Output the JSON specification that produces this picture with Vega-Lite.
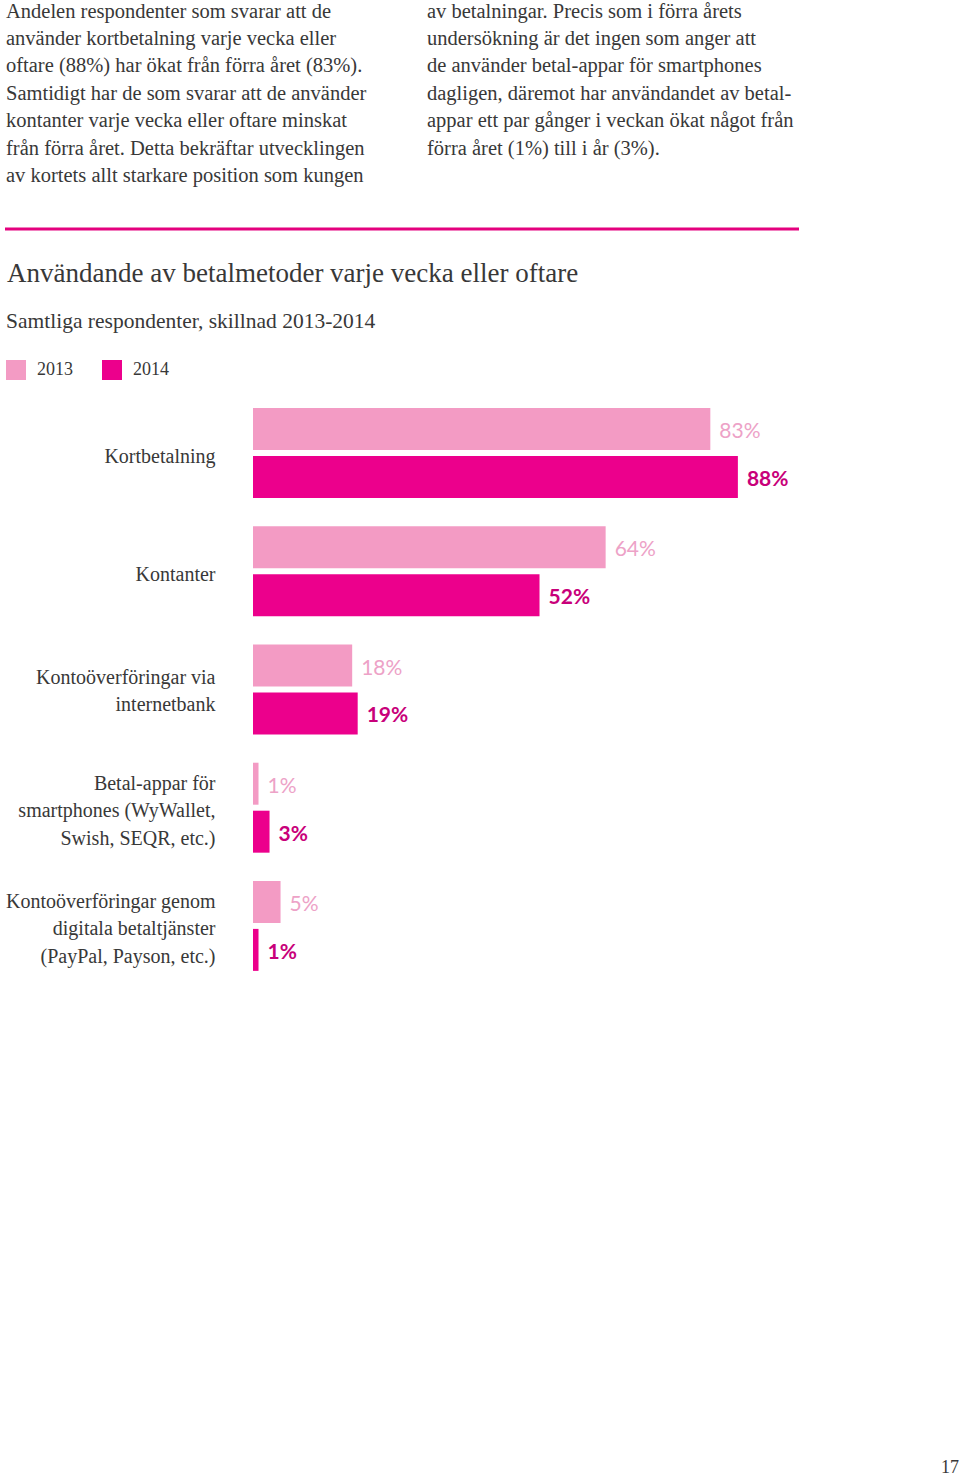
{
  "$schema": "https://vega.github.io/schema/vega-lite/v6.json",
  "width": 551,
  "height": 591,
  "autosize": {"type": "none"},
  "padding": {"left": 253, "top": 394, "right": 156, "bottom": 491},
  "background": "white",
  "config": {"view": {"stroke": null}},
  "datasets": {
    "bars": [
      {"cat": "Kortbetalning", "year": "2013", "value": 83},
      {"cat": "Kortbetalning", "year": "2014", "value": 88},
      {"cat": "Kontanter", "year": "2013", "value": 64},
      {"cat": "Kontanter", "year": "2014", "value": 52},
      {"cat": "Kontoöverföringar via|internetbank", "year": "2013", "value": 18},
      {"cat": "Kontoöverföringar via|internetbank", "year": "2014", "value": 19},
      {"cat": "Betal-appar för|smartphones (WyWallet,|Swish, SEQR, etc.)", "year": "2013", "value": 1},
      {"cat": "Betal-appar för|smartphones (WyWallet,|Swish, SEQR, etc.)", "year": "2014", "value": 3},
      {"cat": "Kontoöverföringar genom|digitala betaltjänster|(PayPal, Payson, etc.)", "year": "2013", "value": 5},
      {"cat": "Kontoöverföringar genom|digitala betaltjänster|(PayPal, Payson, etc.)", "year": "2014", "value": 1}
    ],
    "para": [
      {"col": "L", "line": 1, "text": "Andelen respondenter som svarar att de"},
      {"col": "L", "line": 2, "text": "använder kortbetalning varje vecka eller"},
      {"col": "L", "line": 3, "text": "oftare (88%) har ökat från förra året (83%)."},
      {"col": "L", "line": 4, "text": "Samtidigt har de som svarar att de använder"},
      {"col": "L", "line": 5, "text": "kontanter varje vecka eller oftare minskat"},
      {"col": "L", "line": 6, "text": "från förra året. Detta bekräftar utvecklingen"},
      {"col": "L", "line": 7, "text": "av kortets allt starkare position som kungen"},
      {"col": "R", "line": 1, "text": "av betalningar. Precis som i förra årets"},
      {"col": "R", "line": 2, "text": "undersökning är det ingen som anger att"},
      {"col": "R", "line": 3, "text": "de använder betal-appar för smartphones"},
      {"col": "R", "line": 4, "text": "dagligen, däremot har användandet av betal-"},
      {"col": "R", "line": 5, "text": "appar ett par gånger i veckan ökat något från"},
      {"col": "R", "line": 6, "text": "förra året (1%) till i år (3%)."}
    ],
    "heads": [
      {"part": "title", "text": "Användande av betalmetoder varje vecka eller oftare"},
      {"part": "subtitle", "text": "Samtliga respondenter, skillnad 2013-2014"}
    ]
  },
  "layer": [
    {
      "data": {"name": "bars"},
      "mark": {"type": "bar"},
      "encoding": {
        "y": {
          "field": "cat", "type": "nominal", "sort": null,
          "scale": {"paddingInner": 0.239, "paddingOuter": 0.1195},
          "axis": {
            "title": null, "ticks": false, "domain": false, "labelPadding": 38,
            "labelFont": "Liberation Serif", "labelFontSize": 20, "labelColor": "#383838",
            "labelLineHeight": 27.5, "labelLimit": 400, "labelAlign": "right", "labelBaseline": "middle",
            "labelExpr": "split(datum.label, '|')",
            "labelOffset": {
              "condition": [
                {"test": "indexof(datum.value, 'etc.') >= 0", "value": -24},
                {"test": "indexof(datum.value, 'internetbank') >= 0", "value": -12}
              ],
              "value": 4
            }
          }
        },
        "yOffset": {"field": "year", "type": "nominal", "scale": {"domain": ["2013", "2014"], "paddingInner": 0.125, "paddingOuter": 0}},
        "x": {"field": "value", "type": "quantitative", "scale": {"domain": [0, 100]}, "axis": null},
        "color": {
          "field": "year", "type": "nominal",
          "scale": {"domain": ["2013", "2014"], "range": ["#f39bc4", "#ec008c"]},
          "legend": {
            "title": null, "orient": "none", "legendX": -247, "legendY": -34, "direction": "horizontal",
            "symbolType": "square", "symbolSize": 400, "symbolStrokeWidth": 0, "symbolOpacity": 1,
            "labelFont": "Liberation Serif", "labelFontSize": 18, "labelColor": "#383838",
            "labelOffset": 11, "columnPadding": 29, "padding": 0
          }
        }
      }
    },
    {
      "data": {"name": "bars"},
      "transform": [{"filter": "datum.year == '2013'"}, {"calculate": "datum.value + '%'", "as": "label"}],
      "mark": {"type": "text", "align": "left", "baseline": "middle", "dx": 9, "dy": 3, "font": "Lato", "fontSize": 21, "color": "#eda2c7"},
      "encoding": {
        "y": {"field": "cat", "type": "nominal", "sort": null, "scale": {"paddingInner": 0.239, "paddingOuter": 0.1195}, "axis": null},
        "yOffset": {"field": "year", "type": "nominal", "scale": {"domain": ["2013", "2014"], "paddingInner": 0.125, "paddingOuter": 0}},
        "x": {"field": "value", "type": "quantitative", "scale": {"domain": [0, 100]}, "axis": null},
        "text": {"field": "label"}
      }
    },
    {
      "data": {"name": "bars"},
      "transform": [{"filter": "datum.year == '2014'"}, {"calculate": "datum.value + '%'", "as": "label"}],
      "mark": {"type": "text", "align": "left", "baseline": "middle", "dx": 9, "dy": 3, "font": "Lato", "fontSize": 21, "fontWeight": "bold", "color": "#c8007a"},
      "encoding": {
        "y": {"field": "cat", "type": "nominal", "sort": null, "scale": {"paddingInner": 0.239, "paddingOuter": 0.1195}, "axis": null},
        "yOffset": {"field": "year", "type": "nominal", "scale": {"domain": ["2013", "2014"], "paddingInner": 0.125, "paddingOuter": 0}},
        "x": {"field": "value", "type": "quantitative", "scale": {"domain": [0, 100]}, "axis": null},
        "text": {"field": "label"}
      }
    },
    {
      "data": {"name": "para"},
      "mark": {"type": "text", "align": "left", "baseline": "alphabetic", "font": "Liberation Serif", "fontSize": 20.5, "color": "#383838"},
      "encoding": {
        "x": {"field": "col", "type": "nominal", "scale": {"type": "point", "domain": ["L", "R"], "range": [-247, 174], "padding": 0}, "axis": null},
        "y": {"field": "line", "type": "ordinal", "scale": {"type": "point", "domain": [1, 2, 3, 4, 5, 6, 7], "range": [-376.5, -212], "padding": 0}, "axis": null},
        "text": {"field": "text"}
      }
    },
    {
      "data": {"name": "heads"},
      "mark": {"type": "text", "align": "left", "baseline": "alphabetic", "font": "Liberation Serif", "color": "#383838"},
      "encoding": {
        "x": {"field": "part", "type": "nominal", "scale": {"type": "point", "domain": ["title", "subtitle"], "range": [-246, -247], "padding": 0}, "axis": null},
        "y": {"field": "part", "type": "nominal", "scale": {"type": "point", "domain": ["title", "subtitle"], "range": [-112, -66], "padding": 0}, "axis": null},
        "size": {"field": "part", "type": "ordinal", "scale": {"domain": ["title", "subtitle"], "range": [27, 21.5]}, "legend": null},
        "text": {"field": "text"}
      }
    },
    {
      "data": {"values": [{"item": "rule"}]},
      "mark": {"type": "rule", "color": "#e4007e", "strokeWidth": 3},
      "encoding": {
        "x": {"datum": 0, "type": "quantitative", "scale": {"domain": [0, 1], "range": [-248, 546]}, "axis": null},
        "x2": {"datum": 1},
        "y": {"datum": 0, "type": "quantitative", "scale": {"domain": [0, 1], "range": [-165, -164]}, "axis": null}
      }
    },
    {
      "data": {"values": [{"t": "17"}]},
      "mark": {"type": "text", "align": "center", "baseline": "middle", "font": "Liberation Serif", "fontSize": 18, "color": "#383838"},
      "encoding": {
        "x": {"datum": 0, "type": "quantitative", "scale": {"domain": [0, 1], "range": [697, 698]}, "axis": null},
        "y": {"datum": 0, "type": "quantitative", "scale": {"domain": [0, 1], "range": [1074, 1075]}, "axis": null},
        "text": {"field": "t"}
      }
    }
  ],
  "resolve": {"scale": {"x": "independent", "y": "independent", "color": "independent", "size": "independent"}}
}
